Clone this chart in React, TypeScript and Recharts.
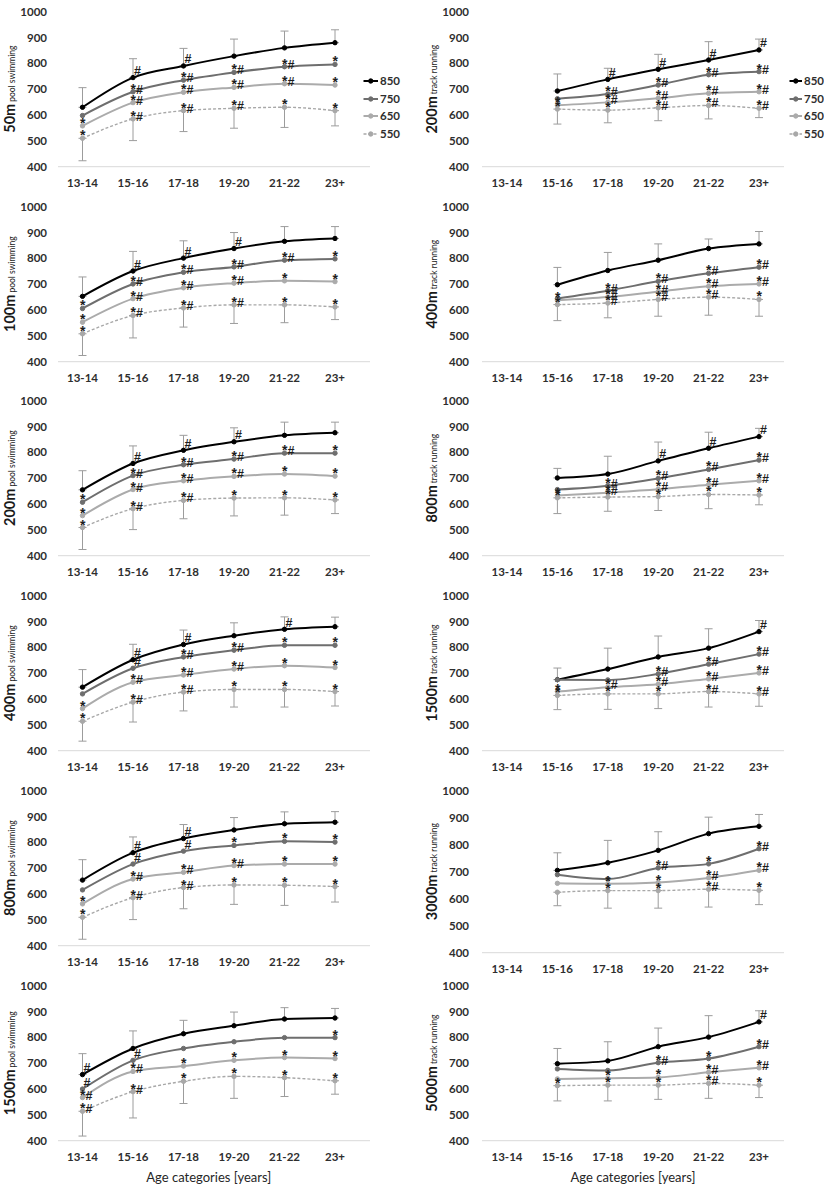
import React from 'react';
import { LineChart, Line, XAxis, YAxis, ErrorBar, LabelList } from 'recharts';

const categories = ['13-14', '15-16', '17-18', '19-20', '21-22', '23+'];
const yTicks = [400, 500, 600, 700, 800, 900, 1000];
const seriesNames = ['850', '750', '650', '550'];
const xAxisTitle = 'Age categories [years]';

// ---------- 50m pool swimming
const pool50_850 = [630, 745, 790, 828, 860, 880];
const pool50_750 = [598, 690, 735, 765, 787, 796];
const pool50_650 = [558, 648, 688, 707, 721, 716];
const pool50_550 = [510, 585, 617, 626, 630, 617];
const pool50_up = [76, 73, 68, 66, 65, 50];
const pool50_dn = [87, 84, 81, 77, 78, 59];
const pool50_a850 = ['', '#', '#', '', '', ''];
const pool50_a750 = ['', '*#', '*#', '*#', '*#', '*'];
const pool50_a650 = ['*', '*#', '*#', '*#', '*#', '*'];
const pool50_a550 = ['*', '*#', '*#', '*#', '*', '*'];

// ---------- 200m track running
const run200_850 = [null, 693, 738, 777, 813, 852];
const run200_750 = [null, 663, 681, 716, 756, 768];
const run200_650 = [null, 638, 649, 665, 684, 690];
const run200_550 = [null, 623, 619, 628, 637, 626];
const run200_up = [null, 66, 43, 58, 71, 42];
const run200_dn = [null, 58, 49, 50, 52, 36];
const run200_a850 = ['', '', '#', '#', '#', '#'];
const run200_a750 = ['', '', '*#', '*#', '*#', '*#'];
const run200_a650 = ['', '*', '*#', '*#', '*#', '*#'];
const run200_a550 = ['', '*', '*', '*#', '*#', '*#'];

// ---------- 100m pool swimming
const pool100_850 = [653, 751, 801, 838, 866, 877];
const pool100_750 = [606, 701, 746, 767, 793, 798];
const pool100_650 = [553, 644, 686, 704, 713, 710];
const pool100_550 = [508, 579, 608, 620, 620, 612];
const pool100_up = [75, 76, 67, 62, 57, 46];
const pool100_dn = [84, 87, 74, 72, 69, 49];
const pool100_a850 = ['', '#', '#', '#', '', ''];
const pool100_a750 = ['*', '*#', '*#', '*#', '*#', '*'];
const pool100_a650 = ['*', '*#', '*#', '*#', '*', '*'];
const pool100_a550 = ['*', '*#', '*#', '*#', '*', '*'];

// ---------- 400m track running
const run400_850 = [null, 698, 753, 793, 838, 856];
const run400_750 = [null, 645, 675, 711, 742, 766];
const run400_650 = [null, 638, 650, 671, 692, 701];
const run400_550 = [null, 621, 627, 641, 650, 641];
const run400_up = [null, 67, 70, 63, 37, 48];
const run400_dn = [null, 62, 57, 65, 70, 65];
const run400_a850 = ['', '', '', '', '', ''];
const run400_a750 = ['', '', '*#', '*#', '*#', '*#'];
const run400_a650 = ['', '*', '*#', '*#', '*#', '*#'];
const run400_a550 = ['', '*', '*#', '*#', '*#', '*'];

// ---------- 200m pool swimming
const pool200_850 = [655, 757, 808, 841, 866, 876];
const pool200_750 = [607, 710, 752, 774, 797, 797];
const pool200_650 = [555, 656, 690, 707, 716, 708];
const pool200_550 = [509, 582, 614, 623, 624, 616];
const pool200_up = [74, 68, 58, 54, 51, 41];
const pool200_dn = [85, 81, 71, 69, 67, 53];
const pool200_a850 = ['', '#', '#', '#', '', ''];
const pool200_a750 = ['*', '*#', '*#', '*#', '*#', '*'];
const pool200_a650 = ['*', '*#', '*#', '*#', '*', '*'];
const pool200_a550 = ['*', '*#', '*#', '*', '*', '*'];

// ---------- 800m track running
const run800_850 = [null, 701, 716, 767, 816, 861];
const run800_750 = [null, 656, 671, 699, 734, 770];
const run800_650 = [null, 633, 644, 657, 675, 690];
const run800_550 = [null, 624, 627, 629, 637, 635];
const run800_up = [null, 37, 69, 73, 62, 32];
const run800_dn = [null, 61, 55, 54, 55, 38];
const run800_a850 = ['', '', '', '#', '#', '#'];
const run800_a750 = ['', '', '*#', '*#', '*#', '*#'];
const run800_a650 = ['', '*', '*#', '*#', '*#', '*#'];
const run800_a550 = ['', '*', '*', '*', '*', '*'];

// ---------- 400m pool swimming
const pool400_850 = [646, 752, 811, 845, 870, 880];
const pool400_750 = [620, 719, 763, 789, 808, 808];
const pool400_650 = [563, 665, 693, 716, 729, 722];
const pool400_550 = [514, 588, 627, 637, 637, 629];
const pool400_up = [68, 60, 56, 50, 48, 37];
const pool400_dn = [77, 77, 73, 68, 68, 56];
const pool400_a850 = ['', '#', '#', '', '#', ''];
const pool400_a750 = ['', '#', '*#', '*#', '*', '*'];
const pool400_a650 = ['*', '*#', '*#', '*#', '*', '*'];
const pool400_a550 = ['*', '*#', '*#', '*', '*', '*'];

// ---------- 1500m track running
const run1500_850 = [null, 675, 716, 763, 797, 861];
const run1500_750 = [null, 675, 674, 697, 735, 774];
const run1500_650 = [null, 629, 646, 657, 678, 701];
const run1500_550 = [null, 614, 620, 620, 629, 620];
const run1500_up = [null, 45, 81, 81, 75, 43];
const run1500_dn = [null, 55, 60, 57, 60, 48];
const run1500_a850 = ['', '', '', '', '', '#'];
const run1500_a750 = ['', '', '', '*#', '*#', '*#'];
const run1500_a650 = ['', '*', '*#', '*#', '*#', '*#'];
const run1500_a550 = ['', '*', '*', '*', '*#', '*#'];

// ---------- 800m pool swimming
const pool800_850 = [654, 760, 815, 848, 872, 878];
const pool800_750 = [616, 716, 766, 788, 804, 801];
const pool800_650 = [562, 658, 684, 710, 716, 716];
const pool800_550 = [510, 586, 625, 635, 634, 629];
const pool800_up = [79, 61, 54, 48, 46, 41];
const pool800_dn = [85, 85, 82, 75, 78, 60];
const pool800_a850 = ['', '#', '#', '', '', ''];
const pool800_a750 = ['', '#', '#', '*', '*', '*'];
const pool800_a650 = ['*', '*#', '*#', '*#', '*', '*'];
const pool800_a550 = ['*', '*#', '*#', '*', '*', '*'];

// ---------- 3000m track running
const run3000_850 = [null, 705, 733, 779, 841, 868];
const run3000_750 = [null, 689, 673, 714, 729, 785];
const run3000_650 = [null, 657, 655, 660, 677, 705];
const run3000_550 = [null, 624, 630, 630, 635, 631];
const run3000_up = [null, 65, 83, 69, 61, 44];
const run3000_dn = [null, 50, 65, 65, 66, 53];
const run3000_a850 = ['', '', '', '', '', ''];
const run3000_a750 = ['', '', '', '*#', '*', '*#'];
const run3000_a650 = ['', '', '*', '*', '*#', '*#'];
const run3000_a550 = ['', '', '*', '*', '*#', '*'];

// ---------- 1500m pool swimming
const pool1500_850 = [656, 757, 814, 845, 871, 875];
const pool1500_750 = [600, 711, 757, 783, 799, 799];
const pool1500_650 = [567, 668, 689, 711, 722, 718];
const pool1500_550 = [514, 590, 630, 649, 644, 632];
const pool1500_up = [81, 68, 52, 53, 44, 37];
const pool1500_dn = [96, 102, 86, 85, 73, 52];
const pool1500_a850 = ['#', '', '', '', '', ''];
const pool1500_a750 = ['#', '#', '', '', '', '*'];
const pool1500_a650 = ['*#', '*#', '*', '*', '*', '*'];
const pool1500_a550 = ['*#', '*#', '*', '*', '*', '*'];

// ---------- 5000m track running
const run5000_850 = [null, 698, 709, 764, 801, 860];
const run5000_750 = [null, 678, 672, 702, 718, 764];
const run5000_650 = [null, 639, 642, 645, 665, 682];
const run5000_550 = [null, 613, 615, 615, 622, 615];
const run5000_up = [null, 59, 74, 72, 83, 43];
const run5000_dn = [null, 59, 61, 55, 58, 48];
const run5000_a850 = ['', '', '', '', '', '#'];
const run5000_a750 = ['', '', '', '*#', '*', '*#'];
const run5000_a650 = ['', '', '*', '*', '*#', '*#'];
const run5000_a550 = ['', '*', '*', '*', '*#', '*'];

type Spec = {
  row: number; col: number; dist: string; sub: string;
  s: (number | null)[][]; up: (number | null)[]; dn: (number | null)[]; a: string[][];
  plotH?: number;
};

const panels: Spec[] = [
  { row: 0, col: 0, dist: '50m', sub: 'pool swimming', s: [pool50_850, pool50_750, pool50_650, pool50_550], up: pool50_up, dn: pool50_dn, a: [pool50_a850, pool50_a750, pool50_a650, pool50_a550] },
  { row: 0, col: 1, dist: '200m', sub: 'track running', s: [run200_850, run200_750, run200_650, run200_550], up: run200_up, dn: run200_dn, a: [run200_a850, run200_a750, run200_a650, run200_a550] },
  { row: 1, col: 0, dist: '100m', sub: 'pool swimming', s: [pool100_850, pool100_750, pool100_650, pool100_550], up: pool100_up, dn: pool100_dn, a: [pool100_a850, pool100_a750, pool100_a650, pool100_a550] },
  { row: 1, col: 1, dist: '400m', sub: 'track running', s: [run400_850, run400_750, run400_650, run400_550], up: run400_up, dn: run400_dn, a: [run400_a850, run400_a750, run400_a650, run400_a550] },
  { row: 2, col: 0, dist: '200m', sub: 'pool swimming', s: [pool200_850, pool200_750, pool200_650, pool200_550], up: pool200_up, dn: pool200_dn, a: [pool200_a850, pool200_a750, pool200_a650, pool200_a550] },
  { row: 2, col: 1, dist: '800m', sub: 'track running', s: [run800_850, run800_750, run800_650, run800_550], up: run800_up, dn: run800_dn, a: [run800_a850, run800_a750, run800_a650, run800_a550] },
  { row: 3, col: 0, dist: '400m', sub: 'pool swimming', s: [pool400_850, pool400_750, pool400_650, pool400_550], up: pool400_up, dn: pool400_dn, a: [pool400_a850, pool400_a750, pool400_a650, pool400_a550] },
  { row: 3, col: 1, dist: '1500m', sub: 'track running', s: [run1500_850, run1500_750, run1500_650, run1500_550], up: run1500_up, dn: run1500_dn, a: [run1500_a850, run1500_a750, run1500_a650, run1500_a550] },
  { row: 4, col: 0, dist: '800m', sub: 'pool swimming', s: [pool800_850, pool800_750, pool800_650, pool800_550], up: pool800_up, dn: pool800_dn, a: [pool800_a850, pool800_a750, pool800_a650, pool800_a550] },
  { row: 4, col: 1, dist: '3000m', sub: 'track running', s: [run3000_850, run3000_750, run3000_650, run3000_550], up: run3000_up, dn: run3000_dn, a: [run3000_a850, run3000_a750, run3000_a650, run3000_a550], plotH: 162 },
  { row: 5, col: 0, dist: '1500m', sub: 'pool swimming', s: [pool1500_850, pool1500_750, pool1500_650, pool1500_550], up: pool1500_up, dn: pool1500_dn, a: [pool1500_a850, pool1500_a750, pool1500_a650, pool1500_a550] },
  { row: 5, col: 1, dist: '5000m', sub: 'track running', s: [run5000_850, run5000_750, run5000_650, run5000_550], up: run5000_up, dn: run5000_dn, a: [run5000_a850, run5000_a750, run5000_a650, run5000_a550] },
];

const FONT = 'Lato, "Open Sans", sans-serif';
const ANNO_FONT = '"Liberation Sans", Arial, sans-serif';
const ROW_H = 194.7;
const PLOT_TOP = 11.7;
const seriesStyle = [
  { key: 'v850', color: '#000000', width: 2, dash: undefined as string | undefined },
  { key: 'v750', color: '#6e6e6e', width: 2, dash: undefined },
  { key: 'v650', color: '#ababab', width: 2, dash: undefined },
  { key: 'v550', color: '#a8a8a8', width: 1.4, dash: '3 2' },
];
const tickStyle = { fontSize: 11.5, fontWeight: 700, fill: '#2e2e2e', fontFamily: FONT };

const renderAnno = (props: any) => {
  const vb = props.viewBox || {};
  const x = props.x ?? vb.x;
  const y = props.y ?? vb.y;
  const v = props.value;
  if (!v || x == null || y == null || isNaN(x) || isNaN(y)) return null;
  const str = String(v);
  const star = str.startsWith('*');
  const tx = star ? x - 2.5 : x + 1;
  const ty = star ? y + 2 : y - 2.5;
  return (
    <text x={tx} y={ty} fontWeight={700} fill="#1e1e1e" fontFamily={ANNO_FONT}>
      {str.split('').map((ch, i) => (
        <tspan key={i} fontSize={ch === '*' ? 14 : 12.5}>{ch}</tspan>
      ))}
    </text>
  );
};

function Panel({ spec }: { spec: Spec }) {
  const isRight = spec.col === 1;
  const isBottom = spec.row === 5;
  const plotH = spec.plotH ?? 155;
  const H = isBottom ? 232 : 200;
  const xh = H - PLOT_TOP - plotH;
  const padL = isRight ? 25 : 24.5;
  const padR = isRight ? 25 : 35;
  const data = categories.map((c, i) => ({
    cat: c,
    v850: spec.s[0][i], v750: spec.s[1][i], v650: spec.s[2][i], v550: spec.s[3][i],
    e850: spec.up[i] == null ? null : [0, spec.up[i]],
    e550: spec.dn[i] == null ? null : [spec.dn[i], 0],
    a850: spec.a[0][i], a750: spec.a[1][i], a650: spec.a[2][i], a550: spec.a[3][i],
  }));
  const bx = isRight ? 25 : 15.5;
  const yTitle = (p: any) => {
    const vb = p.viewBox || { x: 0, y: PLOT_TOP, width: 0, height: plotH };
    const cx = vb.x + bx;
    const cy = vb.y + vb.height / 2;
    return (
      <text x={cx} y={cy} transform={`rotate(-90 ${cx} ${cy})`} textAnchor="middle" fill="#1a1a1a" fontFamily={FONT}>
        <tspan fontSize={14.5} fontWeight={700}>{spec.dist}</tspan>
        <tspan fontSize={8.5} fontWeight={400} dx={2}>{spec.sub}</tspan>
      </text>
    );
  };
  const xTitle = (p: any) => {
    const vb = p.viewBox || { x: isRight ? 70 : 58, y: PLOT_TOP + plotH, width: 302, height: xh };
    const cx = vb.x + padL + (vb.width - padL - padR) / 2;
    const cy = vb.y + 36.5;
    return (
      <text x={cx} y={cy} textAnchor="middle" dominantBaseline="central" fontSize={13} fontWeight={400} fill="#262626" fontFamily={FONT}>
        {xAxisTitle}
      </text>
    );
  };
  return (
    <div style={{ position: 'absolute', left: isRight ? 412 : 0, top: spec.row * ROW_H }}>
      <LineChart width={412} height={H} data={data} margin={{ top: PLOT_TOP, right: isRight ? 40 : 42, bottom: 0, left: 0 }}>
        <XAxis
          dataKey="cat"
          interval={0}
          tickLine={false}
          axisLine={{ stroke: '#d9d9d9', strokeWidth: 1 }}
          tick={tickStyle}
          tickMargin={6}
          height={xh}
          padding={{ left: padL, right: padR }}
          label={isBottom ? { content: xTitle } : undefined}
        />
        <YAxis
          type="number"
          domain={[400, 1000]}
          ticks={yTicks}
          interval={0}
          axisLine={false}
          tickLine={false}
          width={isRight ? 70 : 58}
          tickMargin={isRight ? 7 : 5}
          tick={tickStyle}
          label={{ content: yTitle }}
        />
        {seriesStyle.map((st, si) => (
          <Line
            key={st.key}
            type="monotone"
            dataKey={st.key}
            stroke={st.color}
            strokeWidth={st.width}
            strokeDasharray={st.dash}
            dot={{ r: 2.2, fill: st.color, stroke: st.color, strokeWidth: 1, strokeDasharray: '' }}
            activeDot={false}
            isAnimationActive={false}
          >
            {si === 0 && <ErrorBar dataKey="e850" direction="y" width={4} stroke="#9c9c9c" strokeWidth={1} />}
            {si === 3 && <ErrorBar dataKey="e550" direction="y" width={4} stroke="#9c9c9c" strokeWidth={1} />}
          </Line>
        ))}
        {seriesStyle.map((st) => (
          <Line
            key={'lab' + st.key}
            type="monotone"
            dataKey={st.key}
            stroke="none"
            strokeWidth={0}
            dot={false}
            activeDot={false}
            legendType="none"
            isAnimationActive={false}
          >
            <LabelList dataKey={'a' + st.key.slice(1)} content={renderAnno} />
          </Line>
        ))}
      </LineChart>
    </div>
  );
}

function LegendBox({ left, top, lineW }: { left: number; top: number; lineW: number }) {
  return (
    <div style={{ position: 'absolute', left, top, fontFamily: FONT }}>
      {seriesNames.map((n, i) => {
        const st = seriesStyle[i];
        return (
          <div key={n} style={{ display: 'flex', alignItems: 'center', height: 17.8 }}>
            <svg width={lineW + 1} height={8} style={{ display: 'block' }}>
              <line x1={0.5} x2={lineW} y1={4} y2={4} stroke={st.color} strokeWidth={st.width} strokeDasharray={st.dash} />
              <circle cx={(lineW + 0.5) / 2} cy={4} r={2.2} fill={st.color} stroke={st.color} strokeWidth={1} />
            </svg>
            <span style={{ fontSize: 11.5, fontWeight: 700, color: '#2e2e2e', marginLeft: 1, lineHeight: '12px' }}>{n}</span>
          </div>
        );
      })}
    </div>
  );
}

export default function App() {
  return (
    <div style={{ position: 'absolute', left: 0, top: 0, width: 824, height: 1190, background: '#ffffff', fontFamily: FONT, overflow: 'hidden' }}>
      {panels.map((p, i) => (
        <Panel key={i} spec={p} />
      ))}
      <LegendBox left={363} top={72} lineW={15} />
      <LegendBox left={789} top={72} lineW={13} />
    </div>
  );
}
